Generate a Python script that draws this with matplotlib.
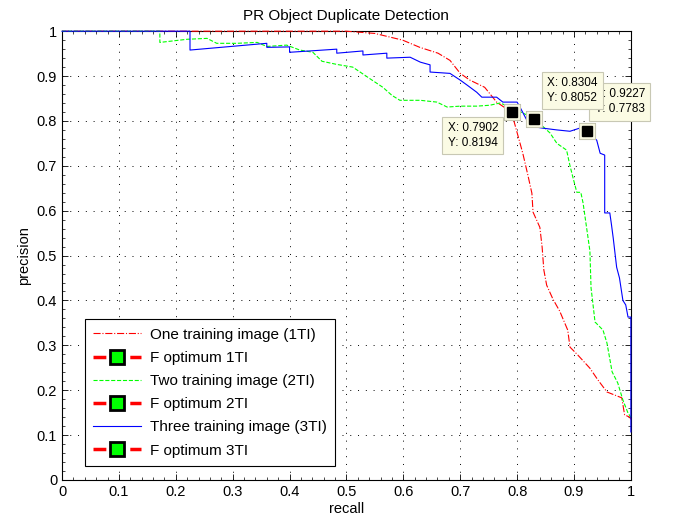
import matplotlib
matplotlib.use('Agg')
import matplotlib.pyplot as plt
from matplotlib.ticker import MultipleLocator

plt.rcParams['font.family'] = ['Liberation Sans', 'DejaVu Sans']

# one training image (1TI)
recall_1 = [0, 0.5, 0.55, 0.599, 0.629, 0.661, 0.682, 0.70, 0.717, 0.743, 0.764, 0.7902,
            0.81, 0.819, 0.826, 0.828, 0.84, 0.844, 0.847, 0.852, 0.863, 0.875, 0.889,
            0.893, 0.907, 0.928, 0.942, 0.958, 0.984, 0.989, 0.998, 1.0]
prec_1 = [1, 1, 0.995, 0.98, 0.964, 0.951, 0.935, 0.906, 0.891, 0.875, 0.842, 0.8194,
          0.728, 0.679, 0.639, 0.597, 0.563, 0.519, 0.468, 0.434, 0.403, 0.376, 0.334,
          0.296, 0.278, 0.249, 0.223, 0.196, 0.183, 0.145, 0.14, 0.135]

# two training images (2TI)
recall_2 = [0, 0.172, 0.172, 0.22, 0.255, 0.272, 0.307, 0.343, 0.36, 0.395, 0.418, 0.441,
            0.457, 0.483, 0.511, 0.524, 0.545, 0.564, 0.58, 0.594, 0.63, 0.659, 0.677,
            0.70, 0.729, 0.752, 0.77, 0.79, 0.8304, 0.858, 0.87, 0.887, 0.893, 0.898,
            0.905, 0.912, 0.916, 0.924, 0.928, 0.93, 0.933, 0.937, 0.951, 0.958, 0.967,
            0.977, 0.986, 0.995, 1.0]
prec_2 = [1, 1, 0.975, 0.982, 0.984, 0.973, 0.973, 0.975, 0.966, 0.969, 0.958, 0.953,
          0.933, 0.926, 0.92, 0.909, 0.891, 0.875, 0.857, 0.846, 0.846, 0.842, 0.831,
          0.833, 0.833, 0.835, 0.84, 0.83, 0.8052, 0.773, 0.75, 0.735, 0.70, 0.675,
          0.641, 0.641, 0.617, 0.546, 0.51, 0.428, 0.396, 0.352, 0.334, 0.305, 0.241,
          0.216, 0.178, 0.149, 0.14]

# three training images (3TI)
recall_3 = [0, 0.225, 0.225, 0.36, 0.36, 0.40, 0.40, 0.483, 0.483, 0.529, 0.529, 0.571,
            0.571, 0.612, 0.63, 0.647, 0.647, 0.682, 0.70, 0.712, 0.729, 0.738, 0.764,
            0.775, 0.80, 0.805, 0.817, 0.835, 0.845, 0.87, 0.893, 0.91, 0.9227, 0.94,
            0.946, 0.954, 0.954, 0.963, 0.966, 0.969, 0.975, 0.98, 0.986, 0.991, 0.995,
            1.0, 1.0]
prec_3 = [1, 1, 0.958, 0.973, 0.964, 0.965, 0.953, 0.96, 0.951, 0.956, 0.947, 0.951,
          0.94, 0.942, 0.931, 0.925, 0.909, 0.906, 0.891, 0.88, 0.864, 0.853, 0.853,
          0.842, 0.842, 0.831, 0.802, 0.786, 0.784, 0.78, 0.777, 0.784, 0.7783, 0.757,
          0.728, 0.724, 0.595, 0.595, 0.568, 0.539, 0.474, 0.45, 0.40, 0.39, 0.363,
          0.363, 0.107]

# F optimum points
opt_x = [0.7902, 0.8304, 0.9227]
opt_y = [0.8194, 0.8052, 0.7783]
opt_labels = ['F optimum 1TI', 'F optimum 2TI', 'F optimum 3TI']

ticks = [0, 0.1, 0.2, 0.3, 0.4, 0.5, 0.6, 0.7, 0.8, 0.9, 1]
tick_labels = ['0', '0.1', '0.2', '0.3', '0.4', '0.5', '0.6', '0.7', '0.8', '0.9', '1']

fig = plt.figure(figsize=(6.74, 5.2), dpi=100)
ax = fig.add_axes([0.092, 0.077, 0.844, 0.863])

l1, = ax.plot(recall_1, prec_1, color='red', ls='-.', lw=0.8, zorder=3, clip_on=False,
              label='One training image (1TI)')
l2, = ax.plot(recall_2, prec_2, color='#00ff00', ls='--', lw=0.8, zorder=3, clip_on=False,
              label='Two training image (2TI)')
l3, = ax.plot(recall_3, prec_3, color='blue', ls='-', lw=0.8, zorder=3, clip_on=False,
              label='Three training image (3TI)')

opt_handles = []
for x, y, lab in zip(opt_x, opt_y, opt_labels):
    h, = ax.plot([x], [y], color='red', ls='--', lw=2.5, marker='s', ms=10,
                 mfc='#00ff00', mec='k', mew=2, label=lab, zorder=4)
    opt_handles.append(h)

# datatip markers and boxes
tip_offsets = [(-46, -7, 5), (9, 30, 7), (5.5, 30.5, 6)]
for x, y, (dx, dy, z) in zip(opt_x, opt_y, tip_offsets):
    ax.plot([x], [y], marker='s', ms=11, mfc='#fbfbe4', mec='#c8c8b4', mew=0.8,
            ls='none', zorder=z)
    ax.plot([x], [y], marker='s', ms=6.5, mfc='k', mec='k', ls='none', zorder=z)
    ax.annotate('X: %.4f\nY: %.4f' % (x, y), xy=(x, y), xytext=(dx, dy),
                textcoords='offset points', ha='left', va='top', fontsize=8.5,
                linespacing=1.35, annotation_clip=False, zorder=z,
                bbox=dict(boxstyle='square,pad=0.45', fc='#fbfbe4', ec='#c8c8b4', lw=0.8))

ax.set_xlim(0, 1)
ax.set_ylim(0, 1)
ax.set_xticks(ticks)
ax.set_xticklabels(tick_labels)
ax.set_yticks(ticks)
ax.set_yticklabels(tick_labels)
ax.xaxis.set_minor_locator(MultipleLocator(0.02))
ax.yaxis.set_minor_locator(MultipleLocator(0.02))
ax.tick_params(which='both', direction='in', top=True, right=True, labelsize=10.5)
ax.tick_params(which='major', length=4, width=0.6)
ax.tick_params(which='minor', length=2, width=0.5)
ax.grid(True, which='major', color='k', ls=(0, (1, 7)), lw=0.7)
for s in ax.spines.values():
    s.set_linewidth(0.8)

ax.set_title('PR Object Duplicate Detection', fontsize=11, pad=8)
ax.set_xlabel('recall', fontsize=10.5, labelpad=2)
ax.set_ylabel('precision', fontsize=10.5, labelpad=4)

handles = [l1, opt_handles[0], l2, opt_handles[1], l3, opt_handles[2]]
leg = ax.legend(handles=handles, loc='lower left', bbox_to_anchor=(0.04, 0.031),
                borderaxespad=0, fontsize=11, handlelength=3.1, handletextpad=0.6,
                labelspacing=0.6, borderpad=0.55, fancybox=False, framealpha=1,
                edgecolor='k')
leg.get_frame().set_linewidth(0.8)
leg.set_zorder(10)

fig.savefig('out.png', dpi=100)
